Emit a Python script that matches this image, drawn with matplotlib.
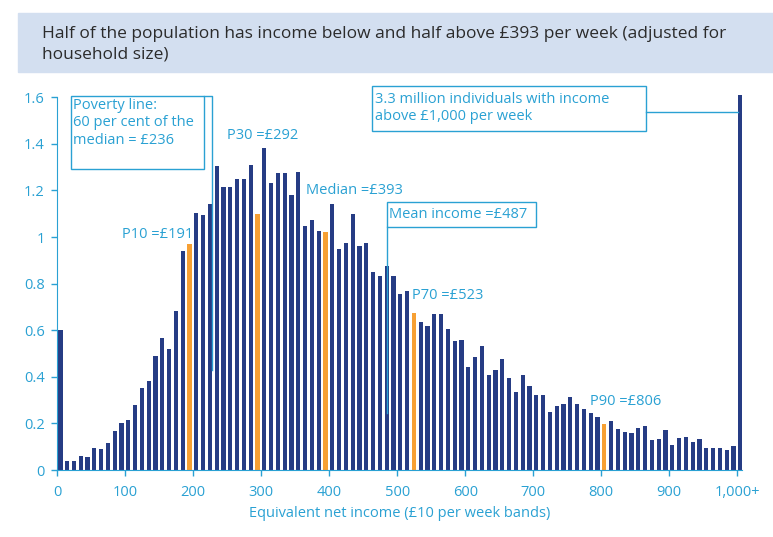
import matplotlib

matplotlib.use("Agg")

import matplotlib.pyplot as plt
from matplotlib.patches import Rectangle

# income bands (£10 per week), lower bound of each band
bands = list(range(0, 1000, 10)) + [1000]
# individuals in each band (millions)
individuals = [
    0.60, 0.04, 0.04, 0.06, 0.055, 0.094, 0.09, 0.116, 0.167, 0.203,
    0.215, 0.279, 0.35, 0.382, 0.489, 0.566, 0.519, 0.683, 0.94, 0.97,
    1.104, 1.094, 1.141, 1.304, 1.213, 1.213, 1.251, 1.251, 1.308, 1.098,
    1.381, 1.231, 1.277, 1.273, 1.18, 1.28, 1.047, 1.072, 1.025, 1.021,
    1.141, 0.948, 0.974, 1.098, 0.962, 0.974, 0.849, 0.832, 0.875, 0.832,
    0.755, 0.768, 0.674, 0.635, 0.618, 0.669, 0.669, 0.605, 0.553, 0.558,
    0.442, 0.485, 0.532, 0.408, 0.429, 0.476, 0.395, 0.335, 0.408, 0.36,
    0.322, 0.322, 0.249, 0.275, 0.283, 0.313, 0.283, 0.262, 0.245, 0.227,
    0.197, 0.21, 0.176, 0.163, 0.159, 0.18, 0.189, 0.129, 0.133, 0.172,
    0.107, 0.137, 0.142, 0.12, 0.133, 0.094, 0.094, 0.094, 0.086, 0.103,
    1.61,
]
# bands holding a percentile (P10, P30, median, P70, P90)
percentile_bands = [190, 290, 390, 520, 800]
percentile_labels = ["P10 =£191", "P30 =£292", "Median =£393", "P70 =£523", "P90 =£806"]

x_ticks = [0, 100, 200, 300, 400, 500, 600, 700, 800, 900, 1000]
x_tick_labels = ["0", "100", "200", "300", "400", "500", "600", "700", "800", "900", "1,000+"]
y_ticks = [0, 0.2, 0.4, 0.6, 0.8, 1.0, 1.2, 1.4, 1.6]
y_tick_labels = ["0", "0.2", "0.4", "0.6", "0.8", "1", "1.2", "1.4", "1.6"]

NAVY = "#263c84"
ORANGE = "#f7a033"
CYAN = "#2aa1d3"
BAND = "#d3dff0"

plt.rcParams["font.family"] = ["Open Sans", "DejaVu Sans"]

fig = plt.figure(figsize=(7.73, 5.37), dpi=100)

# title band
fig.patches.append(Rectangle((18 / 773, 1 - 72 / 537), 1, 59 / 537,
                             transform=fig.transFigure, color=BAND, zorder=0))
fig.text(42 / 773, 1 - 44.5 / 537,
         "Half of the population has income below and half above £393 per week (adjusted for\nhousehold size)",
         fontsize=12.5, color="#2b2b2b", va="center", ha="left", linespacing=1.4)

ax = fig.add_axes([57.3 / 773, 1 - 470 / 537, (742 - 57.3) / 773, (470 - 97.3) / 537])

colors = [ORANGE if b in percentile_bands else NAVY for b in bands]
bars = ax.bar([b + 4.5 for b in bands], individuals, width=6.3, color=colors, zorder=2)
for bar in bars:
    bar.set_clip_on(False)

ax.set_xlim(0, 1007)
ax.set_ylim(0, 1.6)
ax.set_xticks(x_ticks)
ax.set_xticklabels(x_tick_labels)
ax.set_yticks(y_ticks)
ax.set_yticklabels(y_tick_labels)
ax.tick_params(axis="both", colors=CYAN, labelcolor=CYAN, labelsize=10.5, length=4, width=1)
ax.tick_params(axis="x", pad=7)
ax.tick_params(axis="y", pad=5)
ax.set_xlabel("Equivalent net income (£10 per week bands)", color=CYAN, fontsize=10.5, labelpad=4)
for side in ["top", "right"]:
    ax.spines[side].set_visible(False)
for side in ["left", "bottom"]:
    ax.spines[side].set_color(CYAN)

# percentile labels
label_pos = [(95, 1.013), (249, 1.435), (366, 1.202), (521, 0.751), (784, 0.293)]
for text, (tx, ty) in zip(percentile_labels, label_pos):
    ax.text(tx, ty, text, color=CYAN, fontsize=10.5, va="center", ha="left")

# poverty line box
ax.add_patch(Rectangle((20, 1.292), 196, 0.315, fill=False, edgecolor=CYAN, lw=1, clip_on=False))
ax.plot([216, 227, 227], [1.607, 1.607, 0.429], color=CYAN, lw=1, clip_on=False, zorder=3)
ax.text(23, 1.49, "Poverty line:\n60 per cent of the\nmedian = £236", color=CYAN, fontsize=10.5,
        va="center", ha="left", linespacing=1.25)

# mean income box
ax.add_patch(Rectangle((484.4, 1.045), 219, 0.104, fill=False, edgecolor=CYAN, lw=1, clip_on=False, zorder=3))
ax.plot([484.4, 484.4], [1.045, 0.245], color=CYAN, lw=1, zorder=3)
ax.text(488, 1.097, "Mean income =£487", color=CYAN, fontsize=10.5, va="center", ha="left")

# top income box
ax.add_patch(Rectangle((462.4, 1.457), 403, 0.192, fill=False, edgecolor=CYAN, lw=1, clip_on=False))
ax.plot([865.4, 1001.3], [1.536, 1.536], color=CYAN, lw=1, clip_on=False)
ax.text(467, 1.555, "3.3 million individuals with income\nabove £1,000 per week", color=CYAN,
        fontsize=10.5, va="center", ha="left", linespacing=1.2)

fig.savefig("out.png", dpi=100)
